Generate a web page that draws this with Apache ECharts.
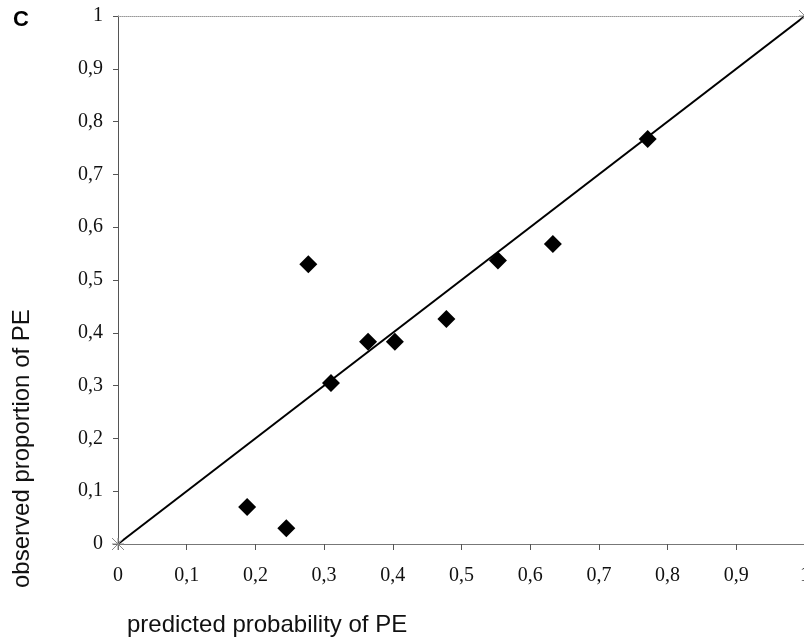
<!DOCTYPE html>
<html>
<head>
<meta charset="utf-8">
<script src="https://cdn.jsdelivr.net/npm/echarts@6/dist/echarts.min.js"></script>
<style>
html,body{margin:0;padding:0;background:#fff;}
#c{width:804px;height:643px;}
</style>
</head>
<body>
<div id="c"></div>
<script>
// Data
var predicted = [0.188, 0.245, 0.277, 0.310, 0.364, 0.403, 0.478, 0.553, 0.633, 0.771];
var observed  = [0.070, 0.030, 0.530, 0.305, 0.383, 0.383, 0.426, 0.537, 0.568, 0.767];
var refLineX = [0, 1];
var refLineY = [0, 1];
var panelLabel = 'C';
var xTitle = 'predicted probability of PE';
var yTitle = 'observed proportion of PE';

var points = predicted.map(function (x, i) { return [x, observed[i]]; });
var refLine = refLineX.map(function (x, i) { return [x, refLineY[i]]; });

function fmt(v) {
  var s = (Math.round(v * 10) / 10).toString();
  return s.replace('.', ',');
}

var chart = echarts.init(document.getElementById('c'));
chart.setOption({
  animation: false,
  backgroundColor: '#fff',
  grid: { left: 118, top: 16, width: 687, height: 528, containLabel: false, outerBoundsMode: 'none' },
  xAxis: [{
    type: 'value', min: 0, max: 1, interval: 0.1,
    axisLine: { show: true, lineStyle: { color: '#777', width: 1 } },
    axisTick: { show: true, inside: false, length: 6, lineStyle: { color: '#555' } },
    axisLabel: { formatter: fmt, fontFamily: 'Liberation Serif', fontSize: 20, color: '#111', margin: 22, hideOverlap: false },
    splitLine: { show: false }
  }, {
    type: 'value', min: 0, max: 1, position: 'top',
    axisLine: { show: true, lineStyle: { color: '#999', width: 1, type: 'dotted' } },
    axisTick: { show: false }, axisLabel: { show: false }, splitLine: { show: false }
  }],
  yAxis: {
    type: 'value', min: 0, max: 1, interval: 0.1,
    axisLine: { show: true, lineStyle: { color: '#555', width: 1 } },
    axisTick: { show: true, inside: false, length: 5, lineStyle: { color: '#555' } },
    axisLabel: { formatter: fmt, fontFamily: 'Liberation Serif', fontSize: 20, color: '#111', margin: 15 },
    splitLine: { show: false }
  },
  series: [{
    type: 'line',
    data: refLine,
    symbol: 'path://M0,0L10,10M10,0L0,10M5,0L5,10M0,5L10,5',
    symbolSize: 12,
    showSymbol: true,
    clip: false,
    itemStyle: { color: 'none', borderColor: '#888', borderWidth: 1 },
    lineStyle: { color: '#000', width: 2 },
    z: 2
  }, {
    type: 'scatter',
    data: points,
    symbol: 'diamond',
    symbolSize: 18,
    itemStyle: { color: '#000', opacity: 1 },
    z: 3
  }],
  graphic: [{
    type: 'text', left: 13, top: 9,
    style: { text: panelLabel, font: 'bold 22px "Liberation Sans"', fill: '#000' }
  }, {
    type: 'text', left: 127, top: 613,
    style: { text: xTitle, font: '24px "Liberation Sans"', fill: '#111' }
  }, {
    type: 'text', x: 10, y: 588, rotation: Math.PI / 2,
    style: { text: yTitle, font: '24px "Liberation Sans"', fill: '#111', textVerticalAlign: 'top' }
  }]
});
</script>
</body>
</html>
